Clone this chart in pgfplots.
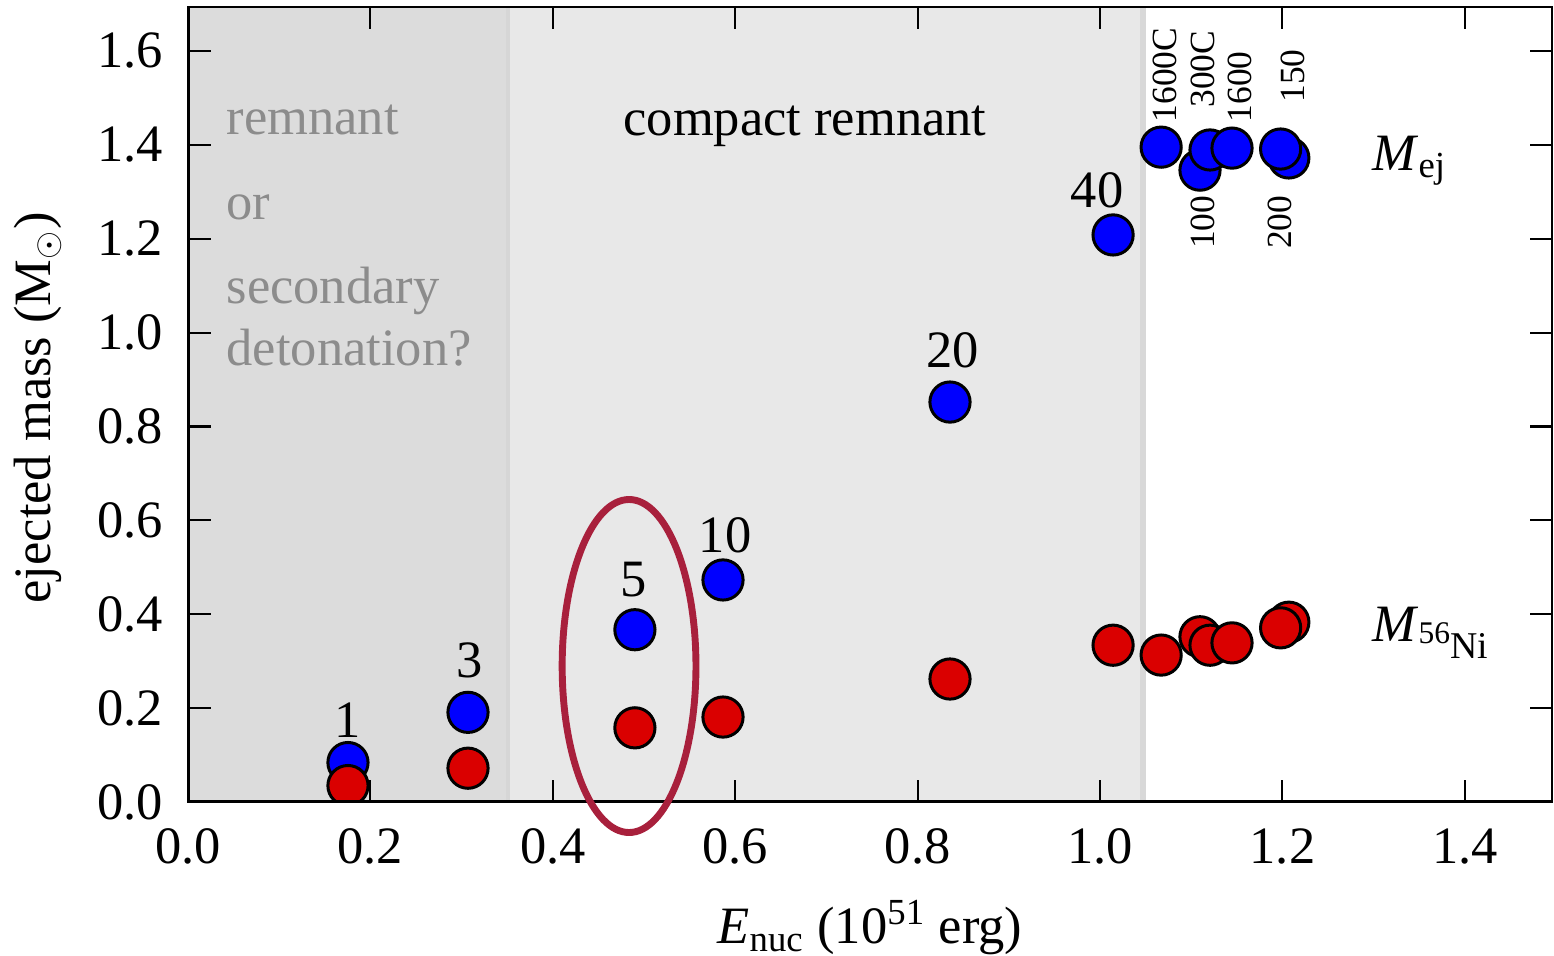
\documentclass[border=0pt]{standalone}
\usepackage{pgfplots}
\pgfplotsset{compat=1.18}
\usepackage{pgfplotstable}
\usepackage{amsmath}
\usepackage{fontspec}
\setmainfont{Liberation Serif}

\definecolor{spanA}{RGB}{220,220,220}
\definecolor{spanB}{RGB}{232,232,232}
\definecolor{edgeA}{RGB}{214,214,214}
\definecolor{edgeB}{RGB}{216,216,216}
\definecolor{mblue}{RGB}{0,0,255}
\definecolor{mred}{RGB}{218,0,0}
\definecolor{ringred}{RGB}{168,32,60}
\definecolor{notegray}{RGB}{140,140,140}

% nuclear energy release vs ejected mass and 56Ni mass
\pgfplotstableread{
x       mej    mni
0.1754  0.084  0.035
0.3070  0.191  0.072
0.4900  0.367  0.158
0.5866  0.473  0.181
0.8355  0.852  0.262
1.0143  1.208  0.334
1.0670  1.395  0.313
1.1096  1.346  0.352
1.1206  1.389  0.334
1.1447  1.393  0.339
1.2070  1.372  0.383
1.1980  1.391  0.371
}\models

\newcommand{\lblfont}{\fontsize{17.5}{21}\selectfont}
\newcommand{\modfont}{\fontsize{11.8}{14}\selectfont}

\begin{document}
\begin{tikzpicture}
\begin{axis}[
  scale only axis,
  width=454.67pt, height=265pt,
  xmin=0, xmax=1.4956, ymin=0, ymax=1.6936,
  axis on top,
  clip marker paths=true,
  axis line style={line width=0.7pt, black},
  xtick={0,0.2,0.4,0.6,0.8,1.0,1.2,1.4},
  ytick={0,0.2,0.4,0.6,0.8,1.0,1.2,1.4,1.6},
  tick align=inside,
  major tick length=7.5pt,
  tick style={line width=0.7pt, black},
  minor tick num=0,
  /pgf/number format/.cd, fixed, fixed zerofill, precision=1, assume math mode=true,
  /pgfplots/.cd,
  tick label style={font=\lblfont},
  xticklabel style={yshift=-5.3pt},
  yticklabel style={xshift=-4.8pt},
  xlabel={\textit{E}$_{\text{nuc}}$ (10$^{\text{51}}$ erg)},
  ylabel={ejected mass (M$_\odot$)},
  every axis x label/.style={at={(axis description cs:0.5,-0.158)}, anchor=center, font=\lblfont},
  every axis y label/.style={at={(axis description cs:-0.110,0.4956)}, rotate=90, anchor=center, font=\lblfont},
]
% shaded energy ranges
\addplot[draw=none, fill=spanA] coordinates {(0,1.6936) (0.351,1.6936)} \closedcycle;
\addplot[draw=none, fill=spanB] coordinates {(0.351,1.6936) (1.047,1.6936)} \closedcycle;
\addplot[edgeA, line width=1.2pt] coordinates {(0.351,0) (0.351,1.6936)};
\addplot[edgeB, line width=2pt] coordinates {(1.047,0) (1.047,1.6936)};

% ejected mass and nickel mass
\addplot[only marks, mark=*, mark size=6.7pt,
  mark options={fill=mblue, draw=black, line width=1pt}] table[x=x, y=mej] {\models};
\addplot[only marks, mark=*, mark size=6.7pt,
  mark options={fill=mred, draw=black, line width=1pt}] table[x=x, y=mni] {\models};

% region notes
\node[notegray, anchor=base west, inner sep=0pt, font=\lblfont] at (axis cs:0.0417,1.4226) {remnant};
\node[notegray, anchor=base west, inner sep=0pt, font=\lblfont] at (axis cs:0.0417,1.2415) {or};
\node[notegray, anchor=base west, inner sep=0pt, font=\lblfont] at (axis cs:0.0417,1.0626) {secondary};
\node[notegray, anchor=base west, inner sep=0pt, font=\lblfont] at (axis cs:0.0417,0.9294) {detonation?};
\node[anchor=base, font=\lblfont] at (axis cs:0.6765,1.4190) {compact remnant};

% model labels
\node[font=\lblfont] at (axis cs:0.1754,0.175) {1};
\node[font=\lblfont] at (axis cs:0.309,0.3025) {3};
\node[font=\lblfont] at (axis cs:0.489,0.473) {5};
\node[font=\lblfont] at (axis cs:0.589,0.569) {10};
\node[font=\lblfont] at (axis cs:0.838,0.963) {20};
\node[font=\lblfont] at (axis cs:0.9967,1.304) {40};
\node[font=\modfont, rotate=90, anchor=west, inner sep=0pt] at (axis cs:1.0713,1.4465) {1600C};
\node[font=\modfont, rotate=90, anchor=west, inner sep=0pt] at (axis cs:1.1130,1.4780) {300C};
\node[font=\modfont, rotate=90, anchor=west, inner sep=0pt] at (axis cs:1.1535,1.4465) {1600};
\node[font=\modfont, rotate=90, anchor=west, inner sep=0pt] at (axis cs:1.2116,1.4890) {150};
\node[font=\modfont, rotate=90, anchor=east, inner sep=0pt] at (axis cs:1.1130,1.2930) {100};
\node[font=\modfont, rotate=90, anchor=east, inner sep=0pt] at (axis cs:1.1970,1.2930) {200};

\node[anchor=base west, inner sep=0pt, font=\lblfont] at (axis cs:1.298,1.346) {\textit{M}$_{\text{ej}}$};
\node[anchor=base west, inner sep=0pt, font=\lblfont] at (axis cs:1.298,0.341)
  {\textit{M}\raisebox{-0.6pt}{\fontsize{10.5}{12}\selectfont 56}\raisebox{-5.5pt}{\fontsize{12.6}{14}\selectfont Ni}};

% heavier left and bottom spines
\draw[line width=1.4pt, black] (rel axis cs:0,1) -- (rel axis cs:0,0) -- (rel axis cs:1,0);

\coordinate (ring) at (axis cs:0.4836,0.2897);
\end{axis}
\draw[ringred, line width=2.3pt] (ring) ellipse [x radius=22.3pt, y radius=55.5pt];
\pgfresetboundingbox
\path[use as bounding box] (-62.67pt,-51.33pt) rectangle (455.33pt,267.33pt);
\end{tikzpicture}
\end{document}
